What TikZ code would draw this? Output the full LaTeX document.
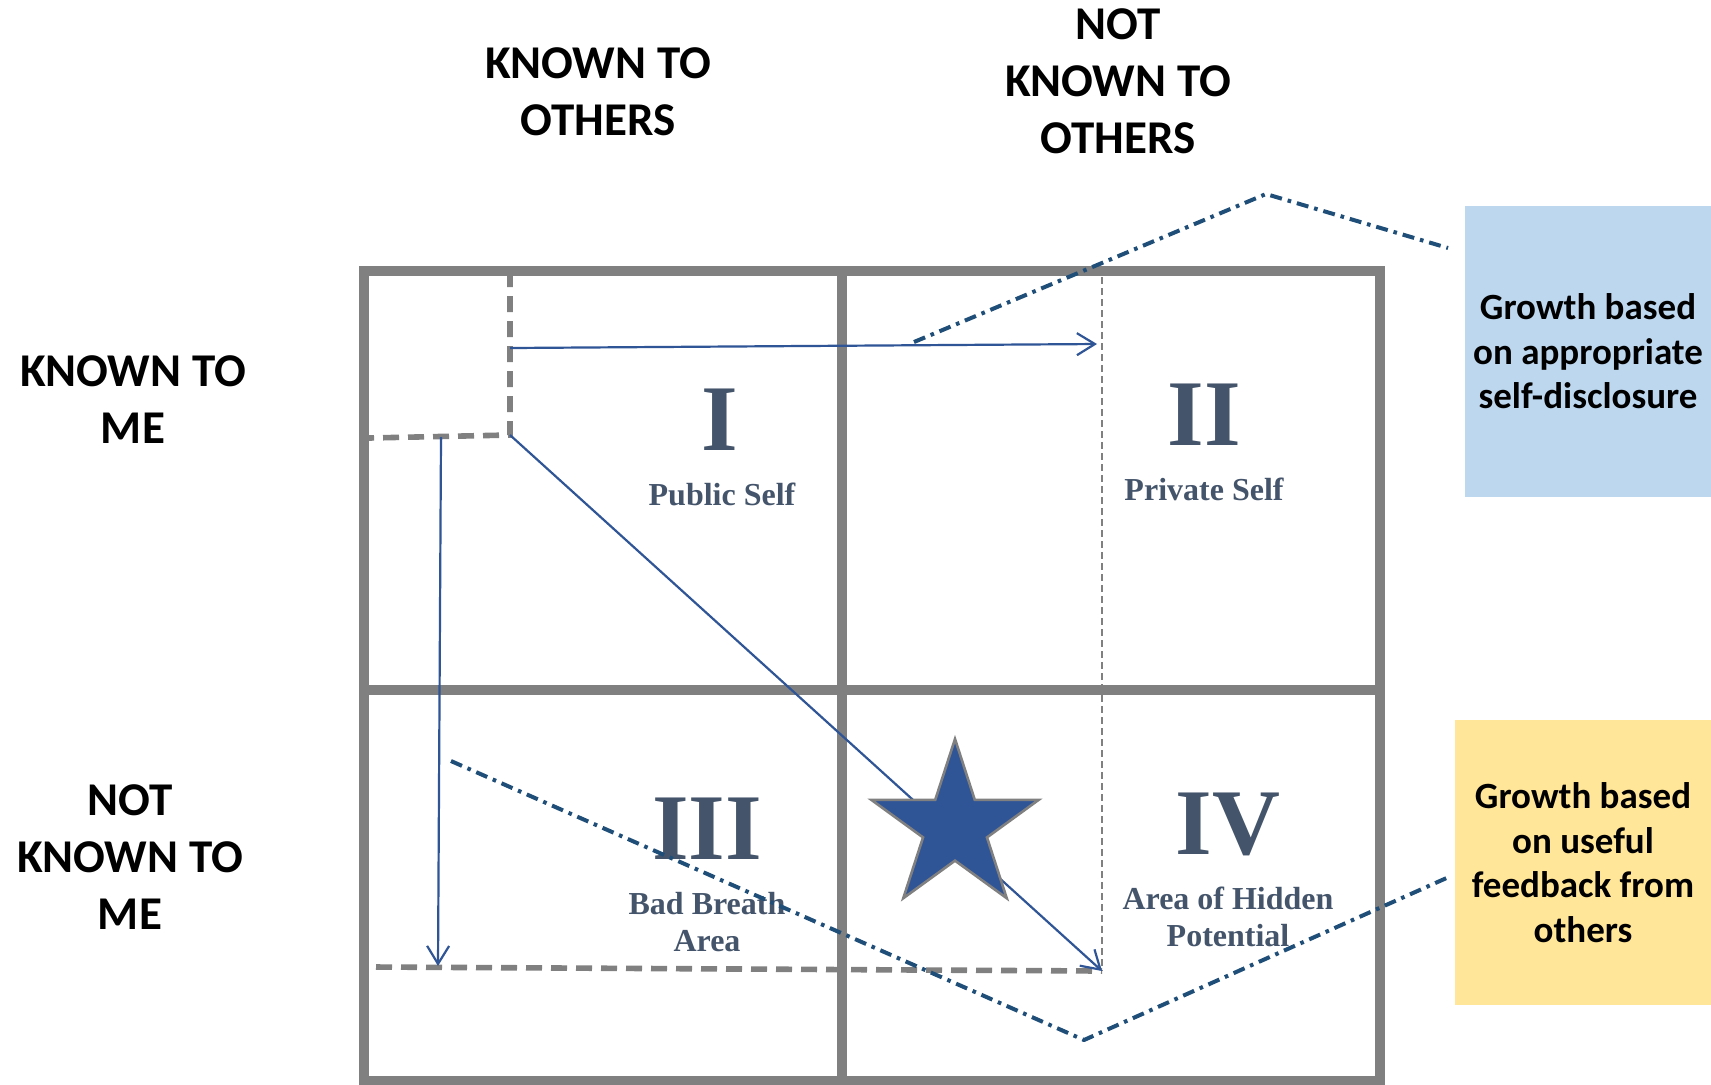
\documentclass[tikz,border=0pt]{standalone}
\usepackage{fontspec}
\setmainfont{Liberation Serif}
\newfontfamily\labelfont{Carlito}
\usetikzlibrary{arrows.meta,shapes.geometric}
\definecolor{framegray}{HTML}{808080}
\definecolor{slate}{HTML}{44546A}
\definecolor{arrowblue}{HTML}{2F5597}
\definecolor{pathblue}{HTML}{1F4E79}
\definecolor{boxblue}{HTML}{BDD7EE}
\definecolor{boxyellow}{HTML}{FFE699}

\begin{document}
\begin{tikzpicture}[x=0.5pt,y=-0.5pt,
  frameline/.style={draw=framegray,line width=5pt},
  windowdash/.style={draw=framegray,line width=2.8pt,dash pattern=on 8pt off 4.5pt},
  thindash/.style={draw=framegray,line width=1pt,dash pattern=on 3.5pt off 2pt},
  flowline/.style={draw=arrowblue,line width=1.1pt},
  flowarrow/.style={flowline,-{Straight Barb[length=9pt,width=11pt,line width=1.1pt]}},
  growthpath/.style={draw=pathblue,line width=2pt,line join=round,
    dash pattern=on 6pt off 3pt on 1.8pt off 3pt},
  axislabel/.style={font={\labelfont\bfseries\fontsize{23.5}{28.5}\selectfont},
    align=center,inner sep=0pt},
  numeral/.style={font={\bfseries\fontsize{47}{47}\selectfont},text=slate,inner sep=0pt},
  sublabel/.style={font={\bfseries\fontsize{16}{18.5}\selectfont},text=slate,
    align=center,inner sep=0pt},
  growthbox/.style={fill=#1,draw=none,align=center,inner sep=0pt,
    font={\labelfont\bfseries\fontsize{18.5}{22.3}\selectfont}},
]
% canvas
\fill[white] (0,0) rectangle (1711,1084);
\useasboundingbox (0,0) rectangle (1711,1084);

% axis headings
\node[axislabel] (knownothers) at (598,92) {KNOWN TO\\OTHERS};
\node[axislabel] (notknownothers) at (1118,81) {NOT\\KNOWN TO\\OTHERS};
\node[axislabel] (knownme) at (133,400) {KNOWN TO\\ME};
\node[axislabel] (notknownme) at (130,857) {NOT\\KNOWN TO\\ME};

% reference points of the two windows
\coordinate (wintop) at (510,271);
\coordinate (wincorner) at (510,435);
\coordinate (winleft) at (369,438);
\coordinate (bigtop) at (1102,277);
\coordinate (bigcorner) at (1102,971);
\coordinate (bigleft) at (376,967);

% small window (thick dashes) and enlarged window (thin + thick dashes)
\draw[windowdash] (wintop) -- (wincorner) -- (winleft);
\draw[thindash] (bigtop) -- (bigcorner);
\draw[windowdash] (bigleft) -- (bigcorner);

% the four panes
\draw[frameline] (364,271) rectangle (1380,1081);
\draw[frameline] (842,271) -- (842,1081);
\draw[frameline] (364,690) -- (1380,690);

% pane labels
\node[numeral] (one) at (720,420) {I};
\node[sublabel] (onelabel) at (722,494) {Public Self};
\node[numeral] (two) at (1204,415) {II};
\node[sublabel] (twolabel) at (1204,489) {Private Self};
\node[numeral] (three) at (707,829) {III};
\node[sublabel] (threelabel) at (707,922) {Bad Breath\\Area};
\node[numeral] (four) at (1228,824) {IV};
\node[sublabel] (fourlabel) at (1228,917) {Area of Hidden\\Potential};

% window growth arrows
\coordinate (discstart) at (510,348);
\coordinate (discend) at (1097,344);
\coordinate (fbstart) at (441,437);
\coordinate (fbend) at (438,966);
\draw[flowarrow] (discstart) -- (discend);
\draw[flowarrow] (fbstart) -- (fbend);
\draw[flowarrow] (wincorner) -- (bigcorner);

% star over the diagonal
\node[star,star points=5,star point ratio=2.618,minimum size=88pt,inner sep=0pt,
  fill=arrowblue,draw=framegray,line width=1.3pt] (goal) at (955,827) {};

% growth boxes
\node[growthbox=boxblue,minimum width=123pt,minimum height=145.5pt] (disclosure)
  at (1588,351.5) {Growth based\\on appropriate\\self-disclosure};
\node[growthbox=boxyellow,minimum width=128pt,minimum height=142.5pt] (feedback)
  at (1583,862.5) {Growth based\\on useful\\feedback from\\others};

% dash-dot guides towards the boxes
\coordinate (dpstart) at (914,342);
\coordinate (dppeak) at (1266,194);
\coordinate (dpend) at (1448,248);
\coordinate (fpstart) at (451,761);
\coordinate (fpvalley) at (1084,1040);
\coordinate (fpend) at (1451,876);
\draw[growthpath] (dpstart) -- (dppeak) -- (dpend);
\draw[growthpath] (fpstart) -- (fpvalley) -- (fpend);
\end{tikzpicture}
\end{document}
